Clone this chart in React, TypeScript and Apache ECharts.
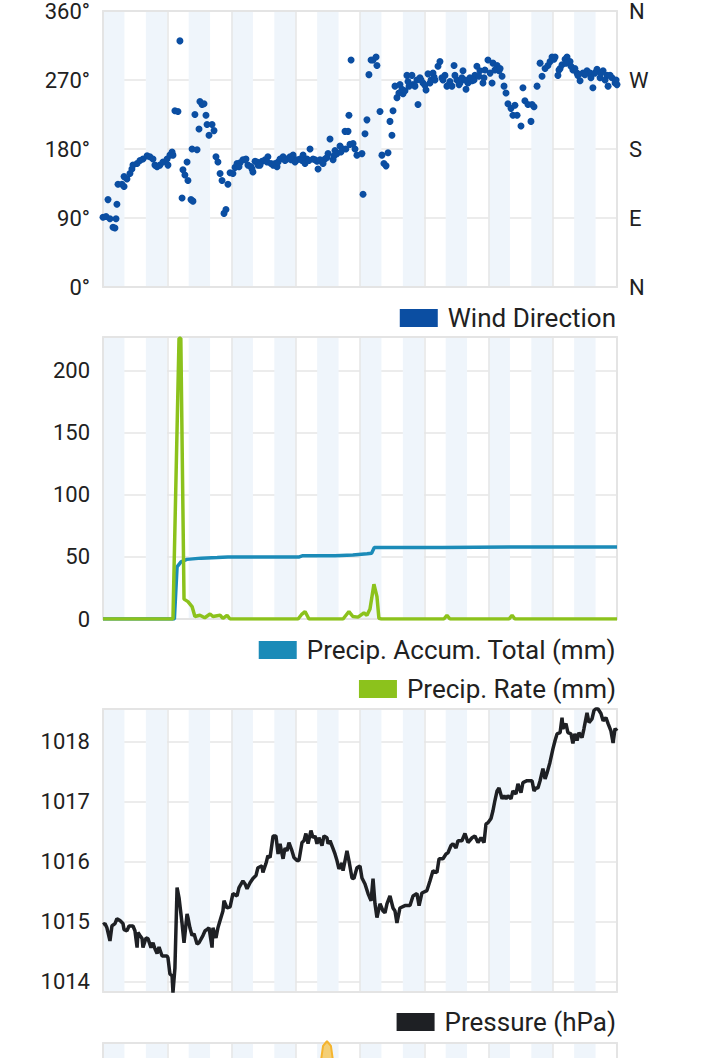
import { useEffect, useRef } from 'react';
import * as echarts from 'echarts';

// x values are hours from the start of the period (12 days = 288 h)
const HOURS_MAX = 288;

const windDirection: [number, number][] = [
  [0, 91], [1.7, 92], [2.8, 114], [3.9, 89], [5.6, 78], [6.7, 77], [7.3, 89], [7.8, 108], [8.4, 134],
  [10.6, 134], [11.8, 131], [11.8, 144], [13.4, 141], [15.1, 148], [16.2, 154], [16.8, 159], [19.1, 161],
  [20.7, 165], [22.4, 167], [24.7, 171], [26.3, 170], [28.0, 167], [29.1, 159], [30.3, 157], [31.9, 159],
  [33.6, 163], [35.9, 167], [36.4, 159], [37.5, 172], [38.7, 176], [39.2, 172], [40.3, 230], [42.0, 229],
  [43.1, 321], [44.3, 116], [44.8, 153], [45.9, 146], [47.1, 163], [47.6, 139], [49.3, 114], [50.4, 112],
  [49.9, 180], [51.5, 225], [52.7, 179], [53.8, 206], [54.3, 242], [55.5, 238], [56.6, 239], [57.7, 224],
  [58.3, 212], [59.4, 198], [61.1, 212], [62.2, 204], [63.3, 170], [64.4, 163], [65.6, 148], [66.7, 139],
  [67.8, 96], [68.9, 101], [70.0, 134], [71.2, 149], [72.8, 148], [74.0, 156], [75.1, 161], [76.8, 162],
  [78.4, 166], [80.1, 167], [81.2, 159], [82.9, 157], [84.0, 150], [85.2, 164], [86.8, 159], [89.1, 164],
  [90.8, 166], [92.4, 170], [94.1, 161], [95.3, 159], [97.5, 157], [99.2, 167], [100.9, 170], [103.1, 167],
  [104.8, 170], [106.5, 172], [108.7, 166], [110.4, 167], [112.1, 172], [114.3, 167], [116.0, 180],
  [117.7, 167], [119.9, 164], [120.5, 154], [122.7, 163], [124.4, 167], [126.1, 174], [127.2, 193],
  [128.9, 166], [130.0, 178], [131.1, 174], [132.8, 184], [134.5, 180], [135.6, 203], [137.3, 203],
  [137.8, 224], [139.0, 296], [140.1, 187], [141.2, 180], [142.3, 172], [145.1, 174], [145.7, 121],
  [146.8, 200], [147.9, 218], [149.0, 277], [150.2, 296], [151.3, 296], [153.0, 300], [153.5, 289],
  [155.2, 229], [156.3, 172], [157.4, 161], [158.6, 158], [159.7, 175], [160.8, 216], [161.9, 198],
  [162.5, 230], [163.6, 262], [164.7, 247], [165.8, 253], [166.4, 264], [168.1, 252], [169.2, 256],
  [170.3, 276], [171.5, 262], [173.1, 276], [173.7, 264], [175.9, 270], [176.5, 238], [177.6, 273],
  [179.3, 266], [181.0, 257], [182.1, 278], [183.8, 270], [184.9, 279], [186.0, 270], [187.7, 288],
  [188.8, 294], [189.9, 273], [191.6, 276], [192.7, 262], [193.9, 264], [195.5, 262], [196.7, 289],
  [198.3, 270], [199.5, 264], [201.1, 273], [201.7, 282], [203.4, 258], [204.5, 266], [206.8, 269],
  [208.4, 276], [209.5, 288], [211.2, 282], [212.9, 266], [214.0, 283], [215.7, 296], [218.0, 266],
  [218.5, 292], [220.8, 289], [221.9, 282], [223.6, 275], [224.7, 262], [225.8, 253], [226.9, 239],
  [228.6, 233], [229.7, 224], [230.8, 237], [232.0, 224], [234.2, 210], [235.3, 260], [236.4, 243],
  [238.1, 238], [239.8, 216], [240.4, 238], [241.5, 235], [243.2, 262], [244.9, 292], [246.0, 275],
  [247.7, 285], [249.3, 289], [251.6, 300], [253.3, 300], [254.9, 276], [256.1, 285], [257.2, 290],
  [258.9, 297], [260.0, 300], [261.7, 294], [263.3, 283], [265.6, 279], [267.3, 269], [268.9, 279],
  [271.2, 282], [272.9, 279], [274.5, 260], [276.8, 284], [278.5, 273], [280.2, 282], [282.4, 276],
  [283.0, 262], [285.2, 273], [286.9, 266], [288, 264],
  [76.2, 157], [79.6, 166], [83.5, 154], [86.3, 163], [88.0, 159], [91.9, 163], [96.4, 161], [98.1, 163],
  [102.0, 165], [105.4, 166], [107.6, 163], [111.5, 165], [113.2, 161], [115.4, 165], [118.8, 166],
  [121.6, 166], [123.3, 161], [125.5, 169], [129.4, 171], [133.3, 176], [136.1, 180], [138.4, 186],
  [167.5, 258], [170.9, 268], [174.8, 262], [178.2, 270], [180.4, 263], [183.2, 266], [185.5, 274],
  [190.5, 270], [194.4, 268], [197.2, 276], [200.0, 266], [202.8, 270], [205.6, 273], [207.9, 270],
  [210.6, 275], [213.5, 273], [216.9, 279], [219.6, 283], [222.5, 285], [250.5, 294], [252.7, 297],
  [255.5, 283], [259.4, 292], [262.2, 288], [264.4, 285], [266.1, 276], [270.0, 277], [273.4, 273],
  [275.6, 279], [279.0, 279], [281.3, 270], [284.1, 276], [287.5, 270],
];

const precipAccumTotal: [number, number][] = [
  [0, 0], [40, 0], [41.5, 42], [43.7, 46], [47, 48], [55, 49], [64, 49.5], [70, 50], [110, 50],
  [112, 51], [130, 51], [140, 51.5], [148, 52.5], [150.5, 53], [152, 57.5], [190, 57.5], [230, 58], [288, 58],
];

const precipRate: [number, number][] = [
  [0, 0], [39.2, 0], [42.6, 226], [43.6, 226], [45.4, 16], [47.6, 14], [49.9, 10], [51.5, 2], [54.3, 3], [57, 1],
  [60, 4], [61.6, 2], [65.6, 3], [67.2, 0.5], [69.5, 3], [71.2, 0], [109.3, 0], [111.5, 4], [113.2, 6],
  [115.4, 0], [134.5, 0], [136.7, 4], [137.8, 6], [140, 2], [142.9, 1.5], [146.2, 5], [147.9, 3],
  [149.6, 8], [151.8, 28], [153.5, 18], [154.6, 0.5], [156, 0], [191, 0], [192.7, 3], [194.4, 0],
  [227.5, 0], [229.2, 3], [230.8, 0], [288, 0],
];

const pressureHpa: [number, number][] = [
  [0, 1014.95], [1.1, 1014.97], [2.2, 1014.9], [3.9, 1014.68], [5.0, 1014.93], [6.7, 1014.97], [7.8, 1015.05],
  [9.5, 1015.02], [11.2, 1014.97], [11.8, 1014.87], [13.4, 1014.85], [14.6, 1014.93], [16.8, 1014.93],
  [17.9, 1014.85], [19.1, 1014.57], [19.6, 1014.82], [20.7, 1014.77], [21.9, 1014.72], [22.4, 1014.57],
  [24.1, 1014.73], [25.2, 1014.72], [26.9, 1014.57], [28.0, 1014.65], [29.1, 1014.55], [30.3, 1014.47],
  [31.4, 1014.58], [33.1, 1014.43], [35.9, 1014.43], [36.4, 1014.4], [37.5, 1014.13], [38.7, 1014.1],
  [39.2, 1013.82], [40.3, 1014.23], [41.5, 1015.57], [42.6, 1015.4], [44.3, 1014.97], [45.4, 1014.65],
  [47.1, 1015.13], [47.6, 1015.07], [48.7, 1014.9], [49.9, 1014.77], [51.0, 1014.8], [52.7, 1014.63],
  [53.8, 1014.65], [56.0, 1014.77], [57.2, 1014.85], [58.3, 1014.87], [59.4, 1014.9], [61.1, 1014.57],
  [61.6, 1014.9], [63.3, 1014.73], [64.4, 1014.9], [65.6, 1015.02], [67.2, 1015.18], [67.8, 1015.35],
  [69.5, 1015.23], [71.2, 1015.25], [72.8, 1015.47], [75.1, 1015.43], [76.2, 1015.57], [78.4, 1015.68],
  [79.6, 1015.63], [80.7, 1015.55], [82.4, 1015.65], [84.0, 1015.72], [85.7, 1015.77], [86.8, 1015.9],
  [89.1, 1015.93], [89.6, 1015.82], [91.3, 1015.97], [92.4, 1016.1], [93.6, 1016.07], [94.7, 1016.3],
  [95.3, 1016.43], [96.9, 1016.43], [98.1, 1016.13], [99.2, 1016.3], [100.3, 1016.13], [100.9, 1016.05],
  [102.0, 1016.23], [103.1, 1016.18], [104.2, 1016.32], [105.9, 1016.18], [107.0, 1016.07], [108.7, 1016.02],
  [109.8, 1016.02], [111.5, 1016.32], [112.6, 1016.35], [113.7, 1016.47], [114.9, 1016.3], [116.5, 1016.52],
  [117.7, 1016.4], [118.8, 1016.43], [119.9, 1016.3], [121.0, 1016.4], [122.7, 1016.27], [123.8, 1016.43],
  [125.5, 1016.4], [126.1, 1016.3], [127.2, 1016.35], [128.9, 1016.22], [130.0, 1016.13], [131.1, 1016.02],
  [132.2, 1015.88], [133.9, 1015.98], [134.5, 1015.85], [136.7, 1016.18], [137.8, 1016.02], [139.5, 1015.73],
  [140.6, 1015.72], [142.3, 1015.9], [144.0, 1015.93], [145.1, 1015.73], [146.8, 1015.63], [148.5, 1015.47],
  [150.2, 1015.35], [151.3, 1015.72], [152.4, 1015.3], [153.5, 1015.07], [155.2, 1015.3], [156.9, 1015.18],
  [158.0, 1015.15], [159.1, 1015.3], [160.8, 1015.43], [162.5, 1015.23], [163.6, 1015.18], [164.7, 1014.98],
  [166.4, 1015.23], [169.2, 1015.27], [172.0, 1015.27], [173.7, 1015.43], [175.9, 1015.47], [177.1, 1015.27],
  [178.7, 1015.48], [181.5, 1015.52], [183.2, 1015.68], [184.9, 1015.85], [187.1, 1015.82], [188.3, 1016.05],
  [190.5, 1016.05], [192.2, 1016.13], [193.3, 1016.15], [195.0, 1016.27], [196.1, 1016.3], [197.8, 1016.23],
  [198.9, 1016.35], [201.1, 1016.35], [202.8, 1016.47], [204.5, 1016.32], [206.8, 1016.4], [208.4, 1016.43],
  [210.1, 1016.32], [211.8, 1016.4], [213.5, 1016.32], [214.6, 1016.63], [215.7, 1016.65], [217.4, 1016.72],
  [218.5, 1016.85], [219.6, 1017.02], [220.8, 1017.18], [221.9, 1017.23], [223.6, 1017.05], [224.7, 1017.1],
  [225.8, 1017.05], [226.9, 1017.1], [228.6, 1017.05], [229.7, 1017.18], [231.4, 1017.13], [232.5, 1017.3],
  [234.2, 1017.15], [235.3, 1017.32], [237.6, 1017.35], [240.4, 1017.35], [241.5, 1017.18], [242.6, 1017.23],
  [243.7, 1017.23], [244.9, 1017.35], [246.5, 1017.55], [247.7, 1017.38], [248.8, 1017.48], [250.4, 1017.65],
  [252.1, 1017.88], [253.3, 1018.02], [254.4, 1018.13], [256.1, 1018.15], [257.2, 1018.4], [257.7, 1018.22],
  [259.4, 1018.3], [260.5, 1018.15], [262.2, 1018.13], [263.3, 1017.97], [264.4, 1018.13], [265.6, 1018.02],
  [266.7, 1018.15], [268.4, 1018.07], [269.5, 1018.22], [271.2, 1018.48], [272.3, 1018.32], [274.0, 1018.38],
  [275.1, 1018.52], [276.2, 1018.55], [277.3, 1018.55], [279.0, 1018.47], [280.2, 1018.35], [281.8, 1018.4],
  [283.0, 1018.3], [284.6, 1018.18], [285.8, 1017.98], [286.9, 1018.22], [288, 1018.18],
];

// fourth (cut-off) panel: only the top of one peak is visible
const solarPeak: [number, number][] = [
  [0, 0], [118, 0], [123.3, 96], [125.5, 102.5], [127.7, 96], [133, 0], [288, 0],
];

const windTicks = [0, 90, 180, 270, 360];
const compassLabels = ['N', 'E', 'S', 'W', 'N'];
const precipTicks = [0, 50, 100, 150, 200];
const pressureTicks = [1014, 1015, 1016, 1017, 1018];

const FONT = 'Roboto';
const TEXT = '#212121';
const BORDER = '#e4e4e4';
const GRIDLINE = '#e6e6e6';
const BAND = '#eff5fb';

export default function App() {
  const ref = useRef<HTMLDivElement>(null);

  useEffect(() => {
    if (!ref.current) return;
    const chart = echarts.init(ref.current, null, { renderer: 'svg' });

    const grids = [
      { left: 103, right: 103, top: 6, height: 281 },
      { left: 103, right: 103, top: 337, height: 282 },
      { left: 103, right: 103, top: 709, height: 283 },
      { left: 103, right: 103, top: 1043, height: 283 },
    ];

    const borderLine = { show: true, onZero: false, lineStyle: { color: BORDER, width: 2 } };

    const xAxis: any[] = [];
    grids.forEach((_, g) => {
      xAxis.push({
        type: 'value', gridIndex: g, min: 0, max: HOURS_MAX, interval: 12, position: 'bottom',
        axisLine: borderLine, axisTick: { show: false }, axisLabel: { show: false },
        splitLine: { show: false },
        splitArea: { show: true, areaStyle: { color: [BAND, 'rgba(255,255,255,0)'] } },
      });
      xAxis.push({
        type: 'value', gridIndex: g, min: 0, max: HOURS_MAX, interval: 36, position: 'top',
        axisLine: borderLine, axisTick: { show: false }, axisLabel: { show: false },
        splitLine: { show: true, lineStyle: { color: GRIDLINE, width: 1.5 } },
      });
    });

    const labelStyle = { fontSize: 22, color: TEXT, fontFamily: FONT };
    const splitLine = { show: true, lineStyle: { color: GRIDLINE, width: 1.5 } };

    const yAxis: any[] = [
      {
        type: 'value', gridIndex: 0, min: 0, max: 360, interval: 90, position: 'left',
        axisLine: borderLine, axisTick: { show: false }, splitLine,
        axisLabel: { ...labelStyle, margin: 13, formatter: (v: number) => v + '°' },
      },
      {
        type: 'value', gridIndex: 0, min: 0, max: 360, interval: 90, position: 'right',
        axisLine: borderLine, axisTick: { show: false }, splitLine: { show: false },
        axisLabel: {
          ...labelStyle, margin: 12,
          formatter: (v: number) => compassLabels[windTicks.indexOf(v)] ?? '',
        },
      },
      {
        type: 'value', gridIndex: 1, min: 0, max: 227, interval: 50, position: 'left',
        axisLine: borderLine, axisTick: { show: false }, splitLine,
        axisLabel: { ...labelStyle, margin: 13, showMaxLabel: false,
          formatter: (v: number) => (precipTicks.includes(v) ? String(v) : '') },
      },
      {
        type: 'value', gridIndex: 1, min: 0, max: 227, interval: 50, position: 'right',
        axisLine: borderLine, axisTick: { show: false }, splitLine: { show: false }, axisLabel: { show: false },
      },
      {
        type: 'value', gridIndex: 2, min: 1013.83, max: 1018.545, position: 'left',
        axisLine: borderLine,
        axisTick: { show: false, customValues: pressureTicks },
        splitLine: { ...splitLine, customValues: pressureTicks },
        axisLabel: { ...labelStyle, margin: 13, customValues: pressureTicks,
          formatter: (v: number) => String(Math.round(v)) },
      },
      {
        type: 'value', gridIndex: 2, min: 1013.83, max: 1018.545, position: 'right',
        axisLine: borderLine, axisTick: { show: false }, splitLine: { show: false }, axisLabel: { show: false },
      },
      {
        type: 'value', gridIndex: 3, min: 0, max: 100, interval: 25, position: 'left',
        axisLine: borderLine, axisTick: { show: false }, splitLine, axisLabel: { show: false },
      },
      {
        type: 'value', gridIndex: 3, min: 0, max: 100, interval: 25, position: 'right',
        axisLine: borderLine, axisTick: { show: false }, splitLine: { show: false }, axisLabel: { show: false },
      },
    ];

    const legendBase = {
      right: 104, padding: 0, icon: 'rect', itemWidth: 38, itemHeight: 18, selectedMode: false,
      textStyle: { fontSize: 26, color: TEXT, fontFamily: FONT, padding: [0, 0, 0, 5] },
    };

    chart.setOption({
      animation: false,
      backgroundColor: '#ffffff',
      grid: grids,
      xAxis,
      yAxis,
      legend: [
        { ...legendBase, top: 305, data: ['Wind Direction'] },
        { ...legendBase, top: 637, data: ['Precip. Accum. Total (mm)'] },
        { ...legendBase, top: 676, data: ['Precip. Rate (mm)'] },
        { ...legendBase, top: 1009, data: ['Pressure (hPa)'] },
      ],
      series: [
        {
          name: 'Wind Direction', type: 'scatter', xAxisIndex: 0, yAxisIndex: 0,
          data: windDirection, symbolSize: 7, itemStyle: { color: '#0b4ea2', opacity: 1 },
        },
        {
          name: 'Precip. Accum. Total (mm)', type: 'line', xAxisIndex: 2, yAxisIndex: 2,
          data: precipAccumTotal, showSymbol: false, color: '#1b8bb8',
          lineStyle: { color: '#1b8bb8', width: 3.5 },
        },
        {
          name: 'Precip. Rate (mm)', type: 'line', xAxisIndex: 2, yAxisIndex: 2, z: 3,
          data: precipRate, showSymbol: false, color: '#8cc21c',
          lineStyle: { color: '#8cc21c', width: 3.5 },
        },
        {
          name: 'Pressure (hPa)', type: 'line', xAxisIndex: 4, yAxisIndex: 4,
          data: pressureHpa, showSymbol: false, color: '#1e2024',
          lineStyle: { color: '#1e2024', width: 3.5 },
        },
        {
          name: 'Solar', type: 'line', xAxisIndex: 6, yAxisIndex: 6, clip: false,
          data: solarPeak, showSymbol: false, color: '#f5b42e',
          lineStyle: { color: '#f5b42e', width: 2 }, areaStyle: { color: '#f7bf3c' },
        },
      ],
    });

    return () => chart.dispose();
  }, []);

  return (
    <div
      ref={ref}
      style={{ position: 'fixed', left: 0, top: 0, width: 720, height: 1058, background: '#fff' }}
    />
  );
}
